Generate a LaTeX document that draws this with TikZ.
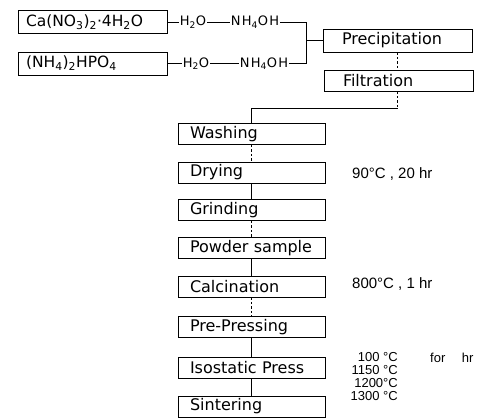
\documentclass[tikz,border=0pt]{standalone}
\usepackage{fontspec}
\setmainfont{DejaVu Sans}
\newfontfamily\widefont{DejaVu Sans}[LetterSpace=10]
\newfontfamily\numfont{Liberation Sans}
\begin{document}
\begin{tikzpicture}[x=1pt,y=-1pt,
  conn/.style={line width=0.7pt},
  faded/.style={line width=0.7pt, dash pattern=on 2.5pt off 2pt},
  stepbox/.style={draw, line width=0.7pt, minimum height=21pt, inner ysep=0pt,
    inner xsep=12pt, text width=123pt, align=left, font=\fontsize{16}{18}\selectfont},
  topbox/.style={draw, line width=0.7pt, minimum height=23pt, inner ysep=0pt,
    inner xsep=8pt, text width=133pt, align=left, font=\fontsize{15.5}{17}\selectfont},
  precbox/.style={draw, line width=0.7pt, minimum height=23pt, inner ysep=0pt,
    inner xsep=19pt, text width=111pt, align=left, font=\fontsize{16}{18}\selectfont},
  chem/.style={inner xsep=1pt, inner ysep=0pt, font=\fontsize{13}{15}\selectfont},
  widechem/.style={inner xsep=1pt, inner ysep=0pt, font=\widefont\fontsize{13}{15}\selectfont},
  cond/.style={inner sep=0pt, anchor=west, font=\numfont\fontsize{15}{17}\selectfont}
]
\useasboundingbox (0,0) rectangle (485,419);

% top inputs
\node[topbox] (ca) at (92.5,22) {Ca(NO\textsubscript{3})\textsubscript{2}·4H\textsubscript{2}O};
\node[chem] (w1) at (193,22) {H\textsubscript{2}O};
\node[widechem] (a1) at (255,22) {NH\textsubscript{4}OH};
\coordinate (b1) at (306,22);

\node[topbox] (np) at (92.5,63.5) {(NH\textsubscript{4})\textsubscript{2}HPO\textsubscript{4}};
\node[chem] (w2) at (196,63.5) {H\textsubscript{2}O};
\node[widechem] (a2) at (264,63.5) {NH\textsubscript{4}OH};
\coordinate (b2) at (306,63.5);

\node[precbox] (pr) at (397.5,40.5) {Precipitation};
\node[precbox, minimum height=21pt] (fi) at (398.5,80.5) {Filtration};
\coordinate (hl) at (397.5,108);

% main column
\node[stepbox] (wa) at (251.5,134) {Washing};
\node[stepbox] (dr) at (251.5,172.5) {Drying};
\node[stepbox] (gr) at (251.5,210) {Grinding};
\node[stepbox] (po) at (251.5,248) {Powder sample};
\node[stepbox] (cl) at (251.5,286.5) {Calcination};
\node[stepbox] (pp) at (251.5,327) {Pre-Pressing};
\node[stepbox] (ip) at (251.5,367.5) {Isostatic Press};
\node[stepbox] (si) at (251.5,406.5) {Sintering};

% conditions
\node[cond] (c1) at (352,174) {90°C , 20 hr};
\node[cond] (c2) at (352,284) {800°C , 1 hr};
\node[inner sep=0pt, anchor=north east, align=right,
  font=\numfont\fontsize{13}{13}\selectfont] (tp) at (398,352)
  {100 °C\\1150 °C\\1200°C\\1300 °C};
\node[inner sep=0pt, anchor=west, font=\numfont\fontsize{13}{13}\selectfont] (fr) at (430,358) {for \quad hr};

% connectors, top
\draw[conn] (ca.east) -- (w1.west);
\draw[conn] (w1.east) -- (a1.west);
\draw[conn] (a1.east) -- (b1) -- (b2) -- (a2.east);
\draw[conn] (a2.west) -- (w2.east);
\draw[conn] (w2.west) -- (np.east);
\draw[conn] (b1 |- pr.west) -- (pr.west);
\draw[faded] (pr.south) -- (pr.south |- fi.north);
\draw[faded] (pr.south |- fi.south) -- (hl);
\draw[line width=0.9pt] (hl) -| (wa.north);

% connectors, column
\draw[faded] (wa.south) -- (dr.north);
\draw[conn] (dr.south) -- (gr.north);
\draw[faded] (gr.south) -- (po.north);
\draw[conn] (po.south) -- (cl.north);
\draw[faded] (cl.south) -- (pp.north);
\draw[conn] (pp.south) -- (ip.north);
\draw[conn] (ip.south) -- (si.north);
\end{tikzpicture}
\end{document}
